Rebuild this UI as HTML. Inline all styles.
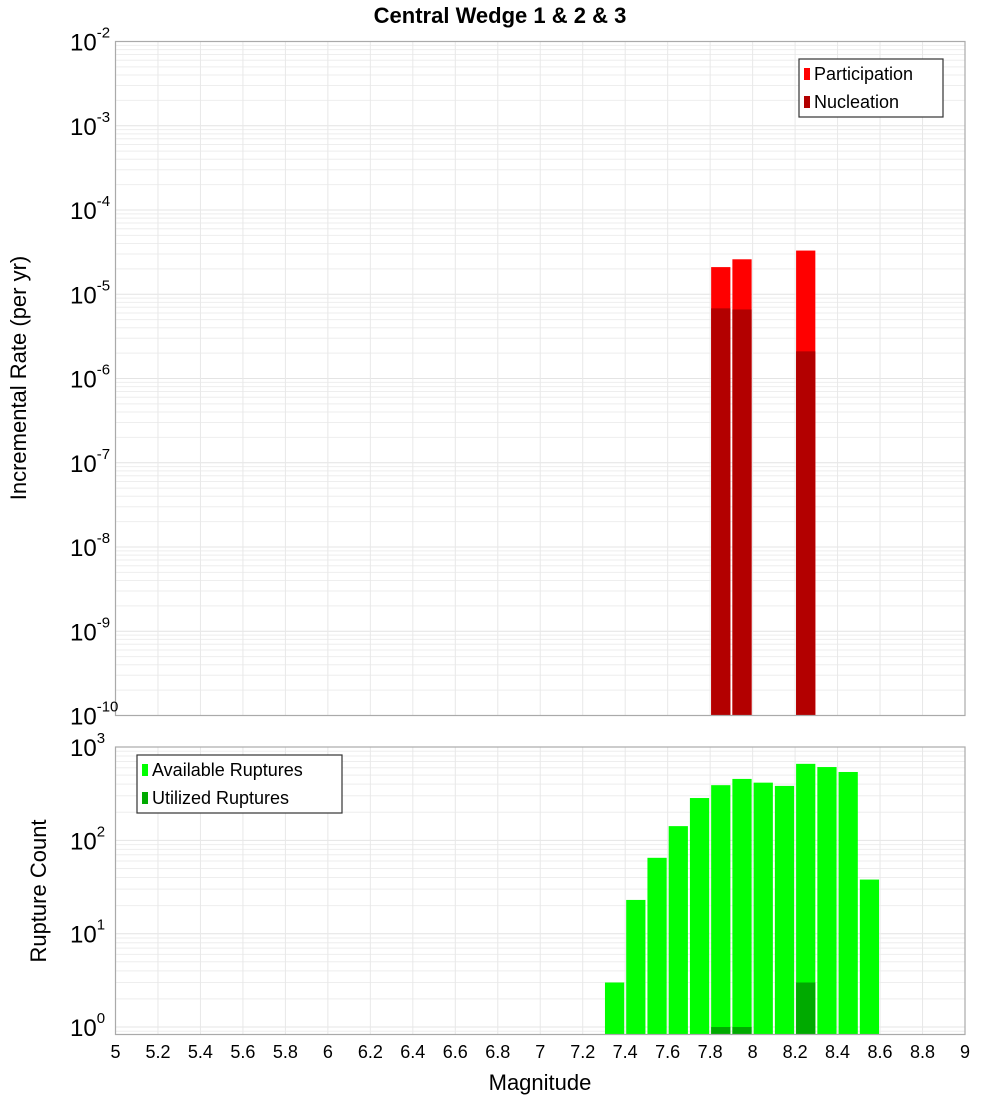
<!DOCTYPE html>
<html><head><meta charset="utf-8"><style>
body{margin:0;background:#fff}
svg{display:block;font-family:"Liberation Sans","DejaVu Sans",sans-serif}
</style></head><body>
<svg id="c" width="1000" height="1100" xmlns="http://www.w3.org/2000/svg"></svg>
<script>
const magBins=[7.8,7.9,8.2];
const participation=[2.1e-5,2.6e-5,3.3e-5];
const nucleation=[6.8e-6,6.6e-6,2.1e-6];
const countBins=[7.3,7.4,7.5,7.6,7.7,7.8,7.9,8.0,8.1,8.2,8.3,8.4,8.5];
const available=[3,23,65,142,284,390,455,415,383,660,610,540,38];
const utilizedBins=[7.8,7.9,8.2];
const utilized=[1,1,3];
const xTicks=[5,5.2,5.4,5.6,5.8,6,6.2,6.4,6.6,6.8,7,7.2,7.4,7.6,7.8,8,8.2,8.4,8.6,8.8,9];
const topExps=[-2,-3,-4,-5,-6,-7,-8,-9,-10];
const botExps=[3,2,1,0];

const NS="http://www.w3.org/2000/svg";
const svg=document.getElementById('c');
function mk(tag,attrs,parent){const e=document.createElementNS(NS,tag);for(const k in attrs)e.setAttribute(k,attrs[k]);(parent||svg).appendChild(e);return e;}
const X0=115.5,X1=965,M0=5,M1=9;
const x=m=>X0+(m-M0)/(M1-M0)*(X1-X0);
const T={top:41.5,bot:715.5,lmin:-10,lmax:-2};
const B={top:747,bot:1034.5,lmin:-0.08,lmax:3};
const yOf=(p,v)=>p.bot-(Math.log10(v)-p.lmin)/(p.lmax-p.lmin)*(p.bot-p.top);

function panel(p,name){
  const g=mk('g',{});
  
  
  mk('rect',{x:X0,y:p.top,width:X1-X0,height:p.bot-p.top,fill:'#fff'},g);
  for(let d=Math.floor(p.lmin);d<p.lmax;d++){
    for(let k=1;k<10;k++){const v=k*Math.pow(10,d);const lv=Math.log10(v);
      if(lv<p.lmin||lv>p.lmax)continue;const y=yOf(p,v);
      const l=mk('line',{x1:X0,x2:X1,y1:y,y2:y,stroke:k==1?'#e4e4e4':'#eeeeee','stroke-width':1},g);
      }
  }
  xTicks.forEach(t=>{const l=mk('line',{x1:x(t),x2:x(t),y1:p.top,y2:p.bot,stroke:'#e8e8e8'},g);
    });
  return g;
}
function frame(p,name){const r=mk('rect',{x:X0,y:p.top,width:X1-X0,height:p.bot-p.top,fill:'none',stroke:'#aaa','stroke-width':1.2});
  }
function bar(p,m,v,color,name){const y=yOf(p,v);
  const r=mk('rect',{x:x(m)+1,y:y,width:x(m+0.1)-x(m)-2,height:p.bot-y,fill:color});
  }
function ylabel(p,e,name){const y=yOf(p,Math.pow(10,e));
  const t=mk('text',{x:108,y:y+9,'text-anchor':'end','font-size':24,fill:'#000'});
  
  t.textContent='10';
  const s=mk('tspan',{'font-size':15,dy:-13},t);s.textContent=String(e);
  t.setAttribute('text-anchor','start');
  const ex=String(e).length;
  t.setAttribute('x',70);
}

panel(T,'rate');
magBins.forEach((m,i)=>bar(T,m,participation[i],'#ff0000','participation-bar'));
magBins.forEach((m,i)=>bar(T,m,nucleation[i],'#b30000','nucleation-bar'));
frame(T,'rate');
panel(B,'count');
countBins.forEach((m,i)=>bar(B,m,available[i],'#00ff00','available-bar'));
utilizedBins.forEach((m,i)=>bar(B,m,utilized[i],'#00aa00','utilized-bar'));
frame(B,'count');

topExps.forEach(e=>ylabel(T,e,'rate-y-tick-label'));
botExps.forEach(e=>ylabel(B,e,'count-y-tick-label'));
xTicks.forEach(t=>{const tx=mk('text',{x:x(t),y:1058,'text-anchor':'middle','font-size':18,fill:'#000'});
  
  tx.textContent=String(t);});

function text(txt,attrs,name){const t=mk('text',attrs);t.textContent=txt;
  return t;}
text('Central Wedge 1 & 2 & 3',{x:500,y:23,'text-anchor':'middle','font-size':22,'font-weight':'bold'},'chart-title');
text('Incremental Rate (per yr)',{x:0,y:0,transform:'translate(26,378) rotate(-90)','text-anchor':'middle','font-size':22},'rate-y-axis-title');
text('Rupture Count',{x:0,y:0,transform:'translate(46,891) rotate(-90)','text-anchor':'middle','font-size':22},'count-y-axis-title');
text('Magnitude',{x:540,y:1090,'text-anchor':'middle','font-size':22},'x-axis-title');

function legend(x0,y0,w,items,name){const g=mk('g',{});
  mk('rect',{x:x0,y:y0,width:w,height:58,fill:'#fff',stroke:'#333','stroke-width':1.2},g);
  items.forEach((it,i)=>{const cy=y0+15+i*28;
    const r=mk('rect',{x:x0+5,y:cy-6,width:6,height:12,fill:it[1]},g);
    
    const t=mk('text',{x:x0+15,y:cy+6,'font-size':18},g);t.textContent=it[0];
    });}
legend(799,59,144,[['Participation','#ff0000'],['Nucleation','#b30000']],'rate-legend');
legend(137,755,205,[['Available Ruptures','#00ff00'],['Utilized Ruptures','#00aa00']],'count-legend');
</script>
</body></html>
